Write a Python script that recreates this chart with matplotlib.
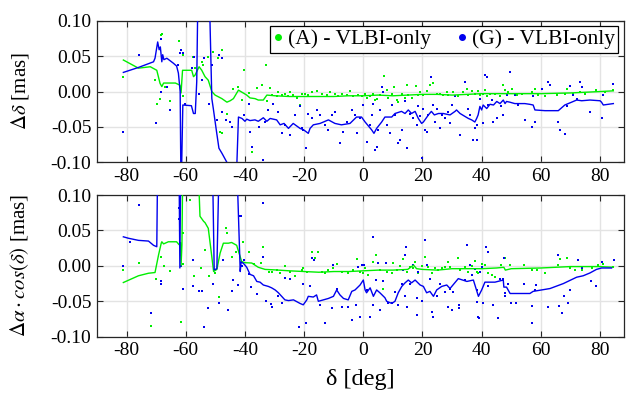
import matplotlib
matplotlib.use("Agg")
import matplotlib.pyplot as plt
from matplotlib.ticker import FormatStrFormatter
from matplotlib.lines import Line2D

plt.rcParams['font.family'] = ['Liberation Serif', 'DejaVu Serif']
plt.rcParams['mathtext.fontset'] = 'stix'
plt.rcParams['axes.unicode_minus'] = False

# ---------------- top panel (declination) ----------------
top_A_x = [-81.1, -68.4, -68.1, -69.8, -68.7, -70.4, -67, -65.3, -62.2, -61.1, -61.1, -57.4, -56.9, -54.6, -54.1,
           -52.4, -50.7, -49.1, -51.2, -47.8, -46.1, -47.8, -48.4, -40.3, -42.2, -41, -37.7, -36, -34.3, -32.9,
           -31.5, -32.6, -44, -38.5,
           -31, -29.3, -28.7, -27.6, -26.5, -25.3, -24.8, -23.6, -22.5, -21.4, -20.8, -19.7, -18.6, -17.4, -15.8,
           -14.1, -12.4, -11.3, -9.6, -8.4, -7.3, -5.6, -4.5, -3.4, -1.7, -0.55, 0.57, 1.1, 2.3, 3.4, 4, 4.5, 5.6,
           6.8, 7.1, 7.9, 8.5, 9.6, 10.4, 11.3, 11.8, 13, 14.1, 14.7, 15.2, 16.3, 17.8, 18.6, 19.2, 20.3, 21.4,
           22.5, 23.7, 24.8, 25.9, 27, 28.2,
           28.7, 30.4, 32.1, 33.8, 34.9, 35.5, 36.6, 37.7, 38.9, 39.4, 40.5, 41.1, 41.7, 42.8, 44.5, 46.2, 47.3,
           47.9, 49, 50.1, 51.8, 53.5, 57.1, 58, 59.1, 61.4, 63.1, 65.3, 68.1, 68.7, 71, 73.2, 74.9, 78.8, 81.7, 84.5]
top_A_y = [0.021, 0.080, 0.081, -0.017, -0.010, 0.016, 0.007, -0.014, 0.071, 0.052, -0.007, 0.049, 0.033, 0.041, 0.037,
           0.049, 0.056, 0.048, 0.037, 0.059, -0.031, -0.059, -0.057, 0.030, 0.007, -0.012, -0.085, 0.005, 0.009, 0.037,
           0.005, -0.014, 0.004, -0.002,
           -0.005, -0.007, -0.001, -0.005, -0.0035, -0.007, 0.000, -0.005, -0.009, -0.019, -0.004, -0.003, -0.005, -0.001, 0.001,
           -0.003, -0.005, -0.001, -0.004, -0.007, -0.003, -0.005, 0.001, -0.007, -0.005, -0.006, -0.003, -0.009, -0.007, -0.004, -0.012, -0.010, -0.005,
           0.000, 0.022, 0.002, -0.009, -0.003, 0.007, -0.012, -0.015, -0.004, -0.009, 0.009, -0.005, -0.009, 0.008, -0.005, -0.001, -0.005, 0.001,
           0.009, 0.012, -0.004, -0.003, -0.005, 0.000,
           -0.005, -0.001, -0.007, 0.000, 0.004, -0.005, 0.001, -0.003, 0.001, -0.005, -0.003, 0.002, -0.007, -0.004, -0.003, -0.006, 0.009,
           0.002, -0.001, 0.003, -0.005, -0.003, -0.001, 0.004, -0.005, -0.006, 0.009, -0.005, -0.004, 0.003, -0.003, 0.000, -0.003, 0.002, -0.001, 0.002]

top_G_x = [-81.1, -75.8, -68.5, -68.3, -70, -68.3, -66.4, -65.3, -62.5, -61.6, -61.1, -60.2, -58, -57.1, -54.6,
           -55.7, -53.7, -52.3, -51, -48.7, -47.6, -47.6, -46.5, -45, -44.5, -40.3, -38.8, -38.3, -37.7, -35.2,
           -34, -32.1, -33.2, -62, -49.5,
           -30.4, -28.7, -27.6, -26.5, -24.8, -23.1, -21.4, -20.8, -20.3, -19.4, -18.6, -17.4, -15.8, -14.6, -12.9,
           -11.8, -10.7, -9.6, -7.9, -6.7, -5.6, -3.9, -2.8, -2.2, -1.1, 0, 1.1, 2.3, 2.8, 3.4, 4, 4.5, 5.1, 5.6,
           6.2, 6.8, 7.9, 9, 9.6, 10.7, 11.8, 12.4, 13, 14.1, 14.7, 15.8, 16.9, 18, 18.6, 19.2, 19.7, 20.3, 20.8,
           21.4, 22, 22.8, 23.7, 24.2, 24.8, 25.9, 26.5, 27.6, 28.7,
           29.3, 29.9, 31, 32.7, 34.4, 35.5, 36.0, 37.2, 37.7, 38.3, 38.3, 39.4, 40.5, 41.1, 41.7, 42.2, 43.4,
           43.9, 45.1, 46.7, 47.3, 48.4, 49.6, 51.2, 52.4, 54.6, 57.1, 57.4, 58, 60.3, 62.5, 63.1, 65.9, 66.5,
           68.1, 68.7, 69.8, 71, 72.1, 73.2, 73.8, 76.6, 80.5, 81.1, 84.5]
top_G_y = [-0.057, 0.051, 0.099, 0.074, -0.045, 0.000, 0.007, -0.026, 0.037, 0.059, 0.054, -0.017, 0.033, 0.049, 0.016,
           -0.003, 0.047, -0.018, 0.038, 0.051, 0.048, -0.029, -0.040, -0.043, -0.050, -0.033, -0.017, -0.057, -0.078, -0.050,
           -0.097, -0.026, -0.043, 0.054, -0.040,
           -0.017, -0.029, -0.059, -0.047, -0.061, -0.033, -0.021, -0.052, -0.054, -0.080, -0.031, -0.038, -0.026, -0.033, -0.047,
           -0.054, -0.033, -0.029, -0.073, -0.057, -0.043, -0.026, -0.033, -0.059, -0.038, -0.019, -0.071, -0.047, -0.033, -0.017, -0.083, -0.078, -0.054, -0.026,
           0.007, -0.001, -0.047, -0.059, -0.019, -0.033, -0.073, -0.068, -0.054, -0.014, -0.080, -0.031, -0.038, -0.047, -0.021, -0.035, -0.094, -0.024, -0.054,
           -0.057, -0.033, 0.021, -0.019, -0.043, -0.024, -0.052, -0.033, -0.038, -0.029,
           -0.045, -0.019, -0.007, -0.061, 0.014, -0.024, -0.033, -0.068, -0.052, -0.047, -0.068, -0.010, -0.045, 0.023, 0.020, -0.019, -0.012,
           -0.043, -0.038, -0.021, -0.033, -0.005, 0.028, -0.005, -0.019, -0.040, -0.050, -0.007, -0.043, 0.004, 0.014, 0.009, -0.043, -0.054,
           -0.060, -0.021, 0.008, -0.005, -0.010, 0.014, 0.007, -0.029, -0.038, -0.005, 0.010]

top_A_med_x = [-81.1, -76, -72, -69.8, -68.7, -68.1, -67.5, -63.5, -62, -61.6, -61.1, -58, -57.4, -56.9, -55.5,
               -54.6, -53.5, -52.4, -51.2, -50.1, -47.8, -46.1, -45, -43.9, -42.2, -41, -39.4, -38.3, -36.6,
               -35.5, -33.8, -32.6, -29.8, -25, -20, -15, -10, -5, 0, 5, 10, 15, 20, 25, 30, 35, 40, 45, 50,
               60, 70, 80, 84.5]
top_A_med_y = [0.0445, 0.033, 0.035, 0.030, 0.0115, 0.007, 0.012, 0.012, 0.009, -0.002, 0.030, 0.030, 0.021, 0.023, 0.035,
               0.030, 0.021, 0.016, 0.000, -0.005, -0.010, -0.015, -0.013, -0.010, 0.002, -0.001, -0.005, -0.009, -0.010,
               -0.012, -0.012, -0.005, -0.006, -0.007, -0.007, -0.007, -0.007, -0.006, -0.006, -0.005, -0.006, -0.005, -0.004, -0.004, -0.005, -0.004, -0.003, -0.003, -0.003,
               -0.003, -0.002, 0.000, 0.001]

top_G_med_x = [-81.1, -76, -70.9, -70.4, -69.5, -69, -68.6, -68.1, -67.8, -67.4, -66.4, -64.2, -63.1, -62.5, -61.9,
               -61.6, -61, -58.1, -57.4, -56.8, -56.3, -55.7, -52.4, -51.2, -50.7, -49.6, -48.8, -47.8, -46.1, -44,
               -42.8, -42.2, -41, -40, -39.4, -38.3, -36.6, -35.5, -33.8, -32.6, -31.5, -29.3, -28.1, -26.8, -25.3,
               -23.7, -21.4, -20.2, -18.6, -18, -16.9, -14.6, -11.8, -9.6, -7.4, -4.5, -2.3, -0.6, 0.6, 2.8, 3.6,
               4.5, 6.2, 7.3, 9.6, 10.7, 12.9, 14.1, 15.2, 16.3, 17.5, 18.6, 19.7, 20.3, 22, 23, 24, 25.4, 27, 29.3,
               31, 31.5, 32.7, 35.5, 36.6, 37.7, 38.3, 38.8, 39.4, 40, 40.5, 41.7, 42.8, 44, 45.1, 46.2, 47.3, 47.9,
               48.4, 49.5, 51.2, 54.6, 56.2, 57.4, 58, 61.4, 65.9, 68.1, 70.4, 72.1, 73.8, 76.6, 80, 80.5, 81.1, 84.5]
top_G_med_y = [0.027, 0.034, 0.042, 0.047, 0.070, 0.059, 0.063, 0.042, 0.052, 0.045, 0.047, 0.040, 0.036, 0.026, 0.000,
               -0.15, -0.019, -0.020, -0.031, -0.031, 0.014, 0.2, 0.2, -0.010, -0.024, -0.057, -0.080, -0.087, -0.100, -0.13,
               -0.11, -0.036, -0.038, -0.042, -0.039, -0.041, -0.040, -0.042, -0.037, -0.042, -0.038, -0.040, -0.047, -0.045, -0.052,
               -0.045, -0.052, -0.054, -0.059, -0.052, -0.047, -0.045, -0.040, -0.045, -0.047, -0.045, -0.036, -0.036, -0.043, -0.054, -0.059,
               -0.052, -0.043, -0.036, -0.036, -0.031, -0.028, -0.031, -0.026, -0.031, -0.028, -0.038, -0.045, -0.043, -0.033, -0.028, -0.033, -0.031, -0.031, -0.033,
               -0.028, -0.026, -0.031, -0.038, -0.040, -0.043, -0.038, -0.033, -0.021, -0.026, -0.019, -0.024, -0.018, -0.019, -0.014, -0.017, -0.012, -0.017,
               -0.014, -0.015, -0.017, -0.017, -0.018, -0.019, -0.026, -0.027, -0.027, -0.019, -0.015, -0.012, -0.013, -0.012, -0.013, -0.015, -0.019, -0.017]

# ---------------- bottom panel (right ascension) ----------------
bot_A_x = [-81.1, -75.8, -71.7, -70.1, -68.3, -67.5, -65.3, -62.1, -61.6, -61.1, -61.6, -61.1, -58.5, -57.1, -53.5,
           -52, -48.7, -46.5, -46.1, -44.5, -40.6, -38.6, -37.1, -34.6, -33.8, -31.9, -55, -50, -43,
           -31, -29.3, -28.1, -26.5, -24.8, -23.1, -20.8, -20.3, -19.1, -17.4, -16.3, -15.2, -14.1, -12.9, -11.8,
           -10.1, -9, -7.3, -5.1, -3.4, -2, -1.1, 0, 0.57, 1.7, 3.4, 4.3, 5.6, 6.8, 7.9, 9.6, 10.2, 11.3, 12.4, 13.5,
           14.7, 15.8, 16.9, 17.5, 18.6, 19.7, 20.8, 22, 23.1, 24.2, 25.4, 26.5, 27.6, 28.7,
           29.3, 32.1, 32.7, 34.4, 35.5, 36.6, 37.7, 38.3, 38.9, 40, 41.1, 42.2, 43.4, 44.5, 46.7, 47.9, 49.5,
           54.4, 57.1, 58.6, 61.4, 65.9, 66.5, 68.7, 69.8, 71.5, 73.8, 77.2, 79.4, 81.1, 84.5]
bot_A_y = [-0.006, 0.004, -0.085, -0.019, 0.013, 0.000, -0.0075, 0.089, -0.079, 0.003, 0.016, 0.046, 0.093, -0.014, 0.023,
           -0.015, -0.044, 0.053, 0.046, 0.012, 0.034, 0.019, 0.003, 0.004, 0.027, -0.009, -0.003, -0.010, 0.020,
           -0.008, -0.006, -0.010, 0.000, -0.008, -0.015, -0.006, -0.003, -0.009, 0.020, 0.011, 0.020, -0.008, -0.010, -0.006,
           -0.003, 0.003, -0.008, -0.010, -0.006, 0.010, -0.008, -0.010, -0.003, -0.013, 0.006, 0.015, -0.006, -0.032, -0.008, -0.010, 0.004, -0.006, 0.000, 0.010,
           -0.008, -0.002, -0.003, 0.006, -0.010, 0.000, 0.013, -0.002, -0.010, -0.003, -0.006, -0.003, -0.002, 0.006,
           -0.001, 0.011, -0.006, -0.002, -0.008, 0.000, 0.007, -0.008, -0.010, 0.002, 0.001, -0.010, -0.013, -0.016, 0.001, 0.011, 0.001,
           0.001, -0.006, -0.006, -0.010, 0.001, 0.010, 0.011, -0.003, -0.006, -0.006, -0.003, 0.001, 0.003, -0.002]

bot_G_x = [-75.8, -78.8, -81.1, -71.7, -68.3, -68.3, -62.3, -62.3, -61.6, -61.1, -57.7, -57.4, -55.5, -54.4, -52.4,
           -50.7, -48.7, -47.5, -45.6, -44.5, -42.5, -41.9, -41.4, -41.1, -38.8, -38, -40.2, -33.8, -33.8, -33,
           -31.2, -54, -44, -36,
           -31, -28.7, -27.6, -26.5, -24.8, -21.9, -20.5, -19.4, -17.4, -16.6, -18, -14.6, -12.9, -10.7, -10.1, -9,
           -7.3, -5.1, -3.9, -2.5, -1.7, -1.1, -0.55, 0.2, 1.1, 2.3, 3.4, 3.4, 4.3, 5.1, 5.6, 6.8, 7.7, 8.5, 9.6,
           10.7, 11.8, 13, 13.5, 14.1, 14.1, 14.4, 14.7, 15.8, 16.9, 18, 18, 18.6, 19.7, 20.8, 21.4, 22.5, 23.1,
           23.7, 24.8, 25.9, 27.6, 28.7,
           29.3, 29.9, 30.4, 32.3, 32.3, 34.4, 34.9, 36.1, 36.6, 37.7, 38.3, 38.5, 38.9, 39.1, 39.4, 40, 40.5,
           41.3, 42, 42.2, 43.9, 45.4, 46.2, 47.3, 47.6, 47.9, 47.9, 49, 49.9, 51.5, 54.4, 57.1, 57.1, 58, 58.2,
           62.5, 65.9, 66.1, 67, 67.9, 69.3, 69.8, 72.6, 73.8, 76.9, 78.8, 80.5, 84.8]
bot_G_y = [0.086, 0.034, 0.000, -0.067, -0.022, -0.026, 0.081, 0.066, 0.000, -0.032, 0.0085, -0.028, -0.035, -0.036, -0.060,
           -0.025, -0.053, 0.0085, -0.062, -0.036, -0.027, 0.070, 0.071, 0.000, -0.012, -0.030, 0.008, 0.089, 0.012, -0.049,
           -0.054, -0.086, -0.020, -0.040,
           -0.058, -0.043, -0.053, -0.0175, -0.019, -0.086, -0.025, -0.081, 0.011, 0.0085, -0.029, -0.055, -0.081, -0.060, 0.001, -0.032,
           -0.058, -0.058, -0.076, -0.055, -0.001, -0.072, 0.001, 0.001, -0.034, -0.072, 0.041, -0.055, -0.020, 0.0045, -0.062, -0.022, 0.0045, -0.053, -0.053,
           -0.037, -0.055, -0.025, -0.006, -0.043, 0.016, 0.026, -0.058, -0.025, 0.001, -0.070, -0.046, -0.008, -0.050, 0.037, 0.001, -0.018, -0.065,
           -0.072, -0.043, -0.025, -0.037, -0.058,
           -0.032, -0.062, -0.037, -0.055, -0.060, -0.020, 0.029, 0.001, -0.013, -0.004, -0.034, -0.051, -0.072, -0.074, -0.008, -0.001, -0.053,
           0.027, 0.020, -0.029, -0.055, -0.074, -0.018, -0.018, 0.011, -0.039, -0.043, -0.025, -0.053, -0.053, -0.026, -0.057, -0.081, -0.034, -0.027,
           -0.058, 0.016, -0.057, -0.067, -0.043, -0.053, -0.034, 0.0085, -0.003, -0.021, -0.029, 0.006, 0.0085]

bot_A_med_x = [-81.1, -76, -72.6, -70.4, -69.2, -68.3, -68.1, -67.5, -65.9, -63.1, -62.3, -61.8, -61.6, -61.3, -61,
               -55.9, -55.2, -54, -53.5, -52.4, -51.5, -50.6, -49.5, -48.4, -47.3, -45.6, -44.5, -42.8, -42, -41.1,
               -40, -37.7, -35.5, -33.2, -29.8, -25, -20, -15, -10, -5, 0, 5, 10, 15, 17, 18, 20, 25, 30, 35, 40,
               45, 47.5, 48, 50, 60, 70, 80, 84.5]
bot_A_med_y = [-0.0235, -0.014, -0.0104, -0.0094, 0.0155, 0.032, 0.034, 0.031, 0.034, 0.034, 0.030, 0.033, 0.000, 0.030, 0.15,
               0.15, 0.070, 0.063, 0.061, 0.053, 0.023, -0.008, -0.005, 0.018, 0.032, 0.032, 0.033, 0.029, 0.018, 0.006,
               0.0045, 0.004, -0.002, -0.005, -0.0057, -0.007, -0.008, -0.009, -0.008, -0.008, -0.007, -0.006, -0.006, -0.005, 0.001, -0.004, -0.005, -0.006, -0.004, -0.004, -0.004,
               -0.003, -0.002, -0.006, -0.004, -0.003, -0.001, -0.001, -0.002]

bot_G_med_x = [-81.1, -79.4, -76, -72.6, -70.9, -69.8, -69.5, -62.3, -62, -61.7, -51, -50.4, -49.5, -48.7, -42.8,
               -41.6, -41.3, -40.5, -39.4, -38.3, -37.1, -36, -34.9, -33.8, -32.1, -31, -29.8, -28.7, -27.6, -26.5,
               -25.3, -23.6, -21.4, -20.3, -19.1, -18.6, -16.9, -15.8, -15.2, -13.5, -11.8, -10.1, -9, -7.9, -6.7,
               -5.1, -3.9, -2.8, -1.1, 0, 0.6, 1.1, 2.3, 3.4, 4.5, 5.6, 7.3, 7.9, 9.6, 10.7, 11.8, 13, 14.1, 15.2,
               16.3, 17.5, 19.2, 20.3, 21.4, 22.5, 23.7, 24.8, 26.5, 28.2, 29.3, 32.1, 35, 37.2, 38.9, 40, 41.1,
               44.5, 47.3, 47.5, 48.4, 49.6, 56.3, 57.4, 63.1, 67.6, 72.1, 74.3, 76.6, 78.8, 80.5, 83.9]
bot_G_med_y = [0.041, 0.039, 0.036, 0.035, 0.029, 0.027, 0.15, 0.15, -0.003, 0.15, 0.15, -0.0056, -0.004, 0.15, 0.15,
               -0.008, 0.0055, 0.0035, -0.002, -0.012, -0.014, -0.022, -0.023, -0.027, -0.029, -0.031, -0.034, -0.038, -0.043, -0.048,
               -0.049, -0.048, -0.053, -0.055, -0.048, -0.043, -0.044, -0.041, -0.050, -0.048, -0.046, -0.043, -0.034, -0.041, -0.046,
               -0.048, -0.036, -0.034, -0.027, -0.020, -0.034, -0.038, -0.031, -0.043, -0.034, -0.038, -0.045, -0.050, -0.053, -0.050, -0.038, -0.029, -0.024, -0.020,
               -0.024, -0.020, -0.027, -0.029, -0.038, -0.036, -0.043, -0.034, -0.029, -0.027, -0.032, -0.018, -0.022, -0.020, -0.043, -0.034, -0.023,
               -0.023, -0.020, -0.030, -0.030, -0.039, -0.039, -0.036, -0.032, -0.025, -0.016, -0.014, -0.010, -0.005, -0.003, -0.003]

xticks = [-80, -60, -40, -20, 0, 20, 40, 60, 80]
yticks = [-0.10, -0.05, 0.00, 0.05, 0.10]
legend_labels = ["(A) - VLBI-only", "(G) - VLBI-only"]
ylabels = [r"$\Delta\delta$ [mas]", r"$\Delta\alpha\cdot cos(\delta)$ [mas]"]
xlabel = "δ [deg]"

GREEN = '#00ee00'
BLUE = '#0000ee'

fig = plt.figure(figsize=(6.3, 3.98), dpi=100)
ax1 = fig.add_axes([0.154, 0.592, 0.836, 0.356])
ax2 = fig.add_axes([0.154, 0.154, 0.836, 0.356])

panels = [
    (ax1, top_A_x, top_A_y, top_G_x, top_G_y, top_A_med_x, top_A_med_y, top_G_med_x, top_G_med_y),
    (ax2, bot_A_x, bot_A_y, bot_G_x, bot_G_y, bot_A_med_x, bot_A_med_y, bot_G_med_x, bot_G_med_y),
]
for i, (ax, ax_, ay_, gx_, gy_, amx, amy, gmx, gmy) in enumerate(panels):
    ax.grid(True, color='#e3e3e3', linewidth=1.0, zorder=0)
    ax.set_axisbelow(True)
    ax.scatter(ax_, ay_, s=2.5, color=GREEN, marker='s', linewidths=0, zorder=2)
    ax.scatter(gx_, gy_, s=2.5, color=BLUE, marker='s', linewidths=0, zorder=2)
    ax.plot(amx, amy, color=GREEN, linewidth=1.0, zorder=3)
    ax.plot(gmx, gmy, color=BLUE, linewidth=1.0, zorder=3)
    ax.set_xlim(-90, 88)
    ax.set_ylim(-0.10, 0.10)
    ax.set_xticks(xticks)
    ax.set_yticks(yticks)
    ax.yaxis.set_major_formatter(FormatStrFormatter('%.2f'))
    ax.tick_params(direction='in', top=True, right=True, labelsize=14, length=4,
                   color='#262626', width=0.8, pad=4)
    for sp in ax.spines.values():
        sp.set_color('#262626')
        sp.set_linewidth(0.9)
    ax.set_ylabel(ylabels[i], fontsize=15)

ax2.set_xlabel(xlabel, fontsize=17.5, labelpad=7)
ax1.yaxis.set_label_coords(-0.125, 0.5)
ax2.yaxis.set_label_coords(-0.125, 0.5)

handles = [Line2D([], [], linestyle='none', marker='o', markersize=4, color=GREEN),
           Line2D([], [], linestyle='none', marker='o', markersize=4, color=BLUE)]
leg = ax1.legend(handles, legend_labels, ncol=2, loc='upper right', fontsize=15.5, frameon=True,
                 fancybox=False, framealpha=1, edgecolor='black', handlelength=0.5, handletextpad=0.2,
                 columnspacing=1.2, borderpad=0.15, borderaxespad=0.25)
leg.get_frame().set_linewidth(0.9)

fig.savefig("out.png", dpi=100)
